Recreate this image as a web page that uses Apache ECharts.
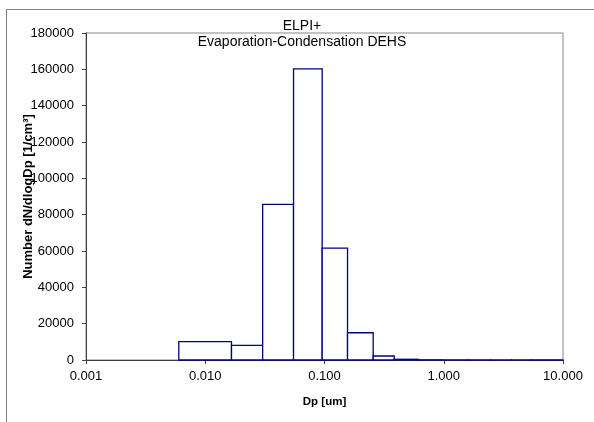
<!DOCTYPE html>
<html>
<head>
<meta charset="utf-8">
<script src="https://cdn.jsdelivr.net/npm/echarts@6/dist/echarts.min.js"></script>
<style>html,body{margin:0;padding:0;background:#fff}#c{width:594px;height:422px}</style>
</head>
<body>
<div id="c"></div>
<script>
var binLow  = [0.006, 0.0166, 0.0303, 0.055, 0.0956, 0.156, 0.256, 0.384, 0.61, 0.96, 1.6, 2.5, 3.7, 5.4];
var binHigh = [0.0166, 0.0303, 0.055, 0.0956, 0.156, 0.256, 0.384, 0.61, 0.96, 1.6, 2.5, 3.7, 5.4, 10];
var values  = [10100, 8100, 85700, 160200, 61600, 15000, 2200, 400, 100, 50, 30, 20, 10, 10];
var xTicks = [0.001, 0.01, 0.1, 1, 10];
var titleLine1 = 'ELPI+';
var titleLine2 = 'Evaporation-Condensation DEHS';

var data = binLow.map(function(lo, i){ return [lo, binHigh[i], values[i]]; });
var FONT = 'Liberation Sans, Arial, sans-serif';
var chart = echarts.init(document.getElementById('c'), null, {renderer:'canvas'});
chart.setOption({
  animation: false,
  backgroundColor: '#fff',
  title: [
    {text: titleLine1, left: 302, top: 19, textAlign: 'center', padding: 0,
     textStyle: {fontFamily: FONT, fontSize: 14, fontWeight: 'normal', color: '#000'}},
    {text: titleLine2, left: 302, top: 35, textAlign: 'center', padding: 0,
     textStyle: {fontFamily: FONT, fontSize: 14, fontWeight: 'normal', color: '#000'}}
  ],
  graphic: [
    {type: 'polyline', z: 0, silent: true,
     shape: {points: [[6.5, 422], [6.5, 9.5], [594, 9.5]]},
     style: {stroke: '#808080', lineWidth: 1, fill: null}}
  ],
  grid: {left: 86, top: 33, right: 31, bottom: 62, show: true,
         borderColor: '#b0b0b0', borderWidth: 1.5, backgroundColor: '#fff'},
  xAxis: {
    type: 'log', logBase: 10, min: xTicks[0], max: xTicks[xTicks.length-1],
    name: 'Dp [um]', nameLocation: 'middle', nameGap: 36, nameMoveOverlap: false,
    nameTextStyle: {fontFamily: FONT, fontSize: 11.5, fontWeight: 'bold', color: '#000'},
    axisLine: {lineStyle: {color: '#404040', width: 1}},
    axisTick: {show: true, length: 4, lineStyle: {color: '#404040'}},
    minorTick: {show: false},
    splitLine: {show: false},
    axisLabel: {fontFamily: FONT, fontSize: 13, color: '#000', margin: 10,
                formatter: function(v){ return Number(v).toFixed(3); }}
  },
  yAxis: {
    type: 'value', min: 0, max: 180000, interval: 20000,
    name: 'Number dN/dlogDp [1/cm\u00b3]', nameLocation: 'middle', nameGap: 51, nameMoveOverlap: false,
    nameTextStyle: {fontFamily: FONT, fontSize: 13, fontWeight: 'bold', color: '#000'},
    axisLine: {show: true, lineStyle: {color: '#404040', width: 1}},
    axisTick: {show: true, length: 4, lineStyle: {color: '#404040'}},
    splitLine: {show: false},
    axisLabel: {fontFamily: FONT, fontSize: 13, color: '#000', margin: 12,
                formatter: function(v){ return String(v); }}
  },
  series: [{
    type: 'custom',
    data: data,
    encode: {x: [0, 1], y: 2},
    renderItem: function(params, api){
      var p0 = api.coord([api.value(0), api.value(2)]);
      var p1 = api.coord([api.value(1), 0]);
      return {
        type: 'rect',
        shape: {x: p0[0], y: p0[1], width: p1[0] - p0[0], height: p1[1] - p0[1]},
        style: {fill: '#fff', stroke: '#000080', lineWidth: 1.3}
      };
    }
  }]
});
</script>
</body>
</html>
